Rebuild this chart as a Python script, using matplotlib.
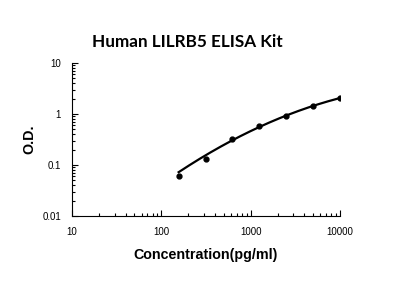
import numpy as np
import matplotlib
matplotlib.use('Agg')
import matplotlib.pyplot as plt
from matplotlib.ticker import LogLocator, FixedLocator, NullFormatter

# standard curve points
conc = [156.25, 312.5, 625, 1250, 2500, 5000, 10000]
od = [0.062, 0.133, 0.32, 0.58, 0.91, 1.44, 2.06]

x_ticks = [10, 100, 1000, 10000]
x_labels = ['10', '100', '1000', '10000']
y_ticks = [0.01, 0.1, 1, 10]
y_labels = ['0.01', '0.1', '1', '10']

fig = plt.figure(figsize=(4.03, 3.08), dpi=100)
ax = fig.add_axes([72 / 403, 92 / 308, 268 / 403, 153 / 308])

# fitted curve (weighted quadratic in log-log space, high points count more)
lx = np.log10(conc)
ly = np.log10(od)
coef = np.polyfit(lx, ly, 2, w=np.array(od) ** 0.85)
xs = np.linspace(lx[0], lx[-1], 200)
ax.plot(10 ** xs, 10 ** np.polyval(coef, xs), color='black', lw=1.6)
ax.plot(conc, od, 'o', color='black', ms=3.5)

ax.set_xscale('log')
ax.set_yscale('log')
ax.set_xlim(10, 10000)
ax.set_ylim(0.01, 10)

ax.xaxis.set_major_locator(FixedLocator(x_ticks))
ax.set_xticklabels(x_labels)
ax.yaxis.set_major_locator(FixedLocator(y_ticks))
ax.set_yticklabels(y_labels)
ax.xaxis.set_minor_locator(LogLocator(base=10, subs=np.arange(2, 10)))
ax.yaxis.set_minor_locator(LogLocator(base=10, subs=np.arange(2, 10)))
ax.xaxis.set_minor_formatter(NullFormatter())
ax.yaxis.set_minor_formatter(NullFormatter())

ax.tick_params(which='major', direction='in', length=4, width=0.8, labelsize=7, pad=8)
ax.tick_params(which='minor', direction='in', length=2.5, width=0.8)
for lab in ax.get_xticklabels() + ax.get_yticklabels():
    lab.set_fontfamily('Liberation Sans')

ax.spines['top'].set_visible(False)
ax.spines['right'].set_visible(False)

ax.set_xlabel('Concentration(pg/ml)', fontsize=10.3, fontweight='bold',
              family='Liberation Sans', labelpad=8)
ax.set_ylabel('O.D.', fontsize=10.3, fontweight='bold',
              family='Liberation Sans', labelpad=4)

fig.text(187 / 403, 1 - 42 / 308, 'Human LILRB5 ELISA Kit', ha='center', va='center',
         fontsize=12.3, fontweight='bold', family='Lato')

fig.savefig('out.png', dpi=100)
